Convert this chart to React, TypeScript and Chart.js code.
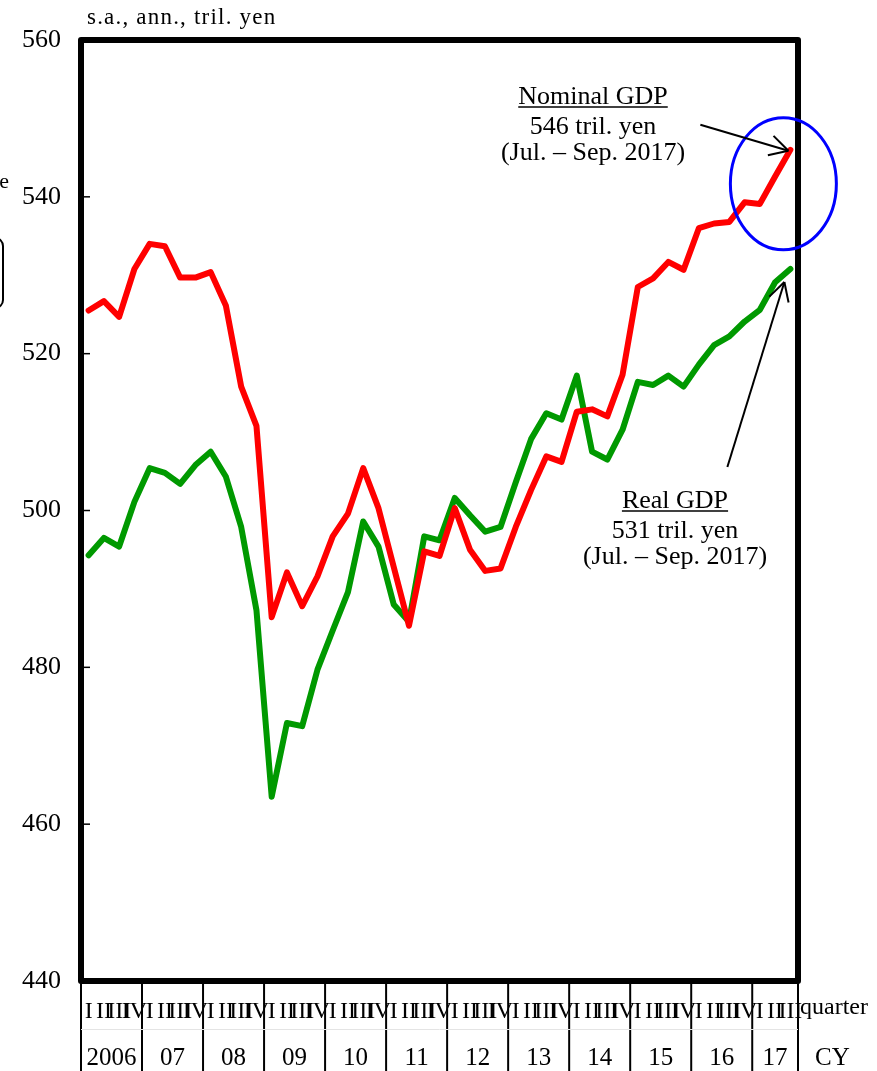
import { useEffect, useRef } from "react";
import { Chart, registerables } from "chart.js";

Chart.register(...registerables);

// Calendar years shown along the bottom row and quarter numerals above them
const years = ["2006", "07", "08", "09", "10", "11", "12", "13", "14", "15", "16", "17"];
const quarterNames = ["I", "II", "III", "IV"];

// Seasonally adjusted, annualized GDP, trillion yen (2006 Q1 – 2017 Q3)
const nominalGdp = [
  525.5, 526.7, 524.7, 530.8, 534.0, 533.7, 529.7, 529.7, 530.4, 526.1,
  515.8, 510.8, 486.4, 492.1, 487.8, 491.6, 496.7, 499.6, 505.4, 500.3,
  492.8, 485.3, 494.8, 494.2, 500.3, 495.0, 492.3, 492.6, 497.9, 502.6,
  506.9, 506.2, 512.6, 512.9, 512.0, 517.3, 528.5, 529.6, 531.7, 530.7,
  536.0, 536.6, 536.8, 539.3, 539.1, 542.6, 546.0,
];
const realGdp = [
  494.3, 496.5, 495.4, 501.1, 505.4, 504.8, 503.4, 505.8, 507.5, 504.3,
  497.9, 487.3, 463.5, 472.9, 472.5, 479.7, 484.7, 489.6, 498.6, 495.4,
  488.0, 485.8, 496.7, 496.2, 501.6, 499.4, 497.3, 497.9, 503.6, 509.1,
  512.4, 511.6, 517.2, 507.5, 506.5, 510.3, 516.4, 516.0, 517.2, 515.8,
  518.6, 521.1, 522.2, 524.1, 525.6, 529.1, 530.8,
];
const yTicks = [440, 460, 480, 500, 520, 540, 560];

const quarterLabels: string[] = [];
for (let i = 0; i < nominalGdp.length; i++) {
  quarterLabels.push(`${years[Math.floor(i / 4)]} ${quarterNames[i % 4]}`);
}

const SERIF = "'Liberation Serif', 'DejaVu Serif', 'Times New Roman', serif";
const W = 877;
const H = 1071;

function seg(ctx: CanvasRenderingContext2D, x1: number, y1: number, x2: number, y2: number) {
  ctx.beginPath();
  ctx.moveTo(x1, y1);
  ctx.lineTo(x2, y2);
  ctx.stroke();
}

function arrow(ctx: CanvasRenderingContext2D, fx: number, fy: number, tx: number, ty: number) {
  seg(ctx, fx, fy, tx, ty);
  const ang = Math.atan2(ty - fy, tx - fx);
  const len = 21;
  const spread = 0.5;
  seg(ctx, tx, ty, tx - len * Math.cos(ang - spread), ty - len * Math.sin(ang - spread));
  seg(ctx, tx, ty, tx - len * Math.cos(ang + spread), ty - len * Math.sin(ang + spread));
}

function noteBlock(ctx: CanvasRenderingContext2D, cx: number, top: number, lines: string[]) {
  ctx.font = `26px ${SERIF}`;
  ctx.fillStyle = "#000";
  ctx.textAlign = "center";
  ctx.textBaseline = "alphabetic";
  const gaps = [0, 30, 56];
  lines.forEach((t, k) => ctx.fillText(t, cx, top + gaps[k]));
  const w = ctx.measureText(lines[0]).width;
  ctx.lineWidth = 1.4;
  ctx.strokeStyle = "#000";
  seg(ctx, cx - w / 2, top + 3, cx + w / 2, top + 3);
}

const overlay = {
  id: "gdpOverlay",
  afterDraw(chart: any) {
    const { ctx, chartArea: a, scales } = chart;
    const xs = scales.x;
    const ys = scales.y;
    ctx.save();

    // inward tick marks on the value axis
    ctx.strokeStyle = "#000";
    ctx.lineWidth = 1.5;
    for (const v of yTicks) {
      const py = ys.getPixelForValue(v);
      seg(ctx, a.left, py, a.left + 9, py);
    }

    // heavy frame round the plot
    ctx.lineWidth = 6;
    ctx.lineJoin = "round";
    ctx.strokeRect(a.left, a.top, a.right - a.left, a.bottom - a.top);

    // unit caption
    ctx.fillStyle = "#000";
    ctx.font = `23px ${SERIF}`;
    ctx.textAlign = "left";
    ctx.textBaseline = "alphabetic";
    (ctx as any).letterSpacing = "1.2px";
    ctx.fillText("s.a., ann., tril. yen", a.left + 6, 24);
    (ctx as any).letterSpacing = "0px";

    // pieces of neighbouring content at the far left edge
    ctx.font = `22px ${SERIF}`;
    ctx.textAlign = "right";
    ctx.fillText("e", 9, 188);
    ctx.lineWidth = 2;
    ctx.beginPath();
    ctx.roundRect(-60, 238, 63, 70, 8);
    ctx.stroke();

    // quarter / calendar-year table under the plot
    const step = xs.getPixelForValue(1) - xs.getPixelForValue(0);
    const n = nominalGdp.length;
    ctx.lineWidth = 2;
    ctx.strokeStyle = "#000";
    const bounds: number[] = [];
    for (let k = 0; k < years.length; k++) bounds.push(xs.getPixelForValue(4 * k) - step / 2);
    bounds.push(a.right);
    for (const bx of bounds) seg(ctx, bx, a.bottom, bx, H);
    ctx.strokeStyle = "#e4e4e4";
    ctx.lineWidth = 1;
    seg(ctx, a.left, 1029.5, a.right, 1029.5);

    ctx.fillStyle = "#000";
    ctx.textAlign = "center";
    ctx.textBaseline = "middle";
    ctx.font = `24px ${SERIF}`;
    for (let i = 0; i < n; i++) {
      ctx.fillText(quarterNames[i % 4], xs.getPixelForValue(i), 1012);
    }
    ctx.font = `25px ${SERIF}`;
    for (let k = 0; k < years.length; k++) {
      ctx.fillText(years[k], (bounds[k] + bounds[k + 1]) / 2, 1058);
    }
    ctx.textAlign = "left";
    ctx.font = `24px ${SERIF}`;
    ctx.fillText("quarter", a.right + 2, 1008);
    ctx.font = `25px ${SERIF}`;
    ctx.fillText("CY", a.right + 17, 1058);

    // call-outs for the latest quarter
    const lastX = xs.getPixelForValue(n - 1);
    const nomY = ys.getPixelForValue(nominalGdp[n - 1]);
    const realY = ys.getPixelForValue(realGdp[n - 1]);

    ctx.strokeStyle = "#0000ff";
    ctx.lineWidth = 3;
    ctx.beginPath();
    ctx.ellipse(lastX - 7, nomY + 34, 53, 66, 0, 0, Math.PI * 2);
    ctx.stroke();

    noteBlock(ctx, a.right - 205, 104, [
      "Nominal GDP",
      `${Math.round(nominalGdp[n - 1])} tril. yen`,
      "(Jul. \u2013 Sep. 2017)",
    ]);
    noteBlock(ctx, a.right - 123, 508, [
      "Real GDP",
      `${Math.round(realGdp[n - 1])} tril. yen`,
      "(Jul. \u2013 Sep. 2017)",
    ]);

    ctx.strokeStyle = "#000";
    ctx.lineWidth = 2;
    arrow(ctx, lastX - 90, nomY - 25, lastX - 2, nomY + 1);
    arrow(ctx, lastX - 63, realY + 198, lastX - 6, realY + 13);

    ctx.restore();
  },
};

export default function App() {
  const ref = useRef<HTMLCanvasElement | null>(null);

  useEffect(() => {
    if (!ref.current) return;
    const chart = new Chart(ref.current, {
      type: "line",
      data: {
        labels: quarterLabels,
        datasets: [
          {
            label: "Real GDP",
            data: realGdp,
            borderColor: "#009900",
            borderWidth: 6,
            pointRadius: 0,
            tension: 0,
            borderJoinStyle: "round",
            borderCapStyle: "round",
            order: 2,
          },
          {
            label: "Nominal GDP",
            data: nominalGdp,
            borderColor: "#ff0000",
            borderWidth: 6,
            pointRadius: 0,
            tension: 0,
            borderJoinStyle: "round",
            borderCapStyle: "round",
            order: 1,
          },
        ],
      },
      options: {
        responsive: false,
        animation: false,
        devicePixelRatio: 1,
        layout: { padding: { top: 40, right: 79, left: 0, bottom: 0 } },
        plugins: {
          legend: { display: false },
          tooltip: { enabled: false },
        },
        scales: {
          x: {
            type: "category",
            offset: true,
            grid: { display: false },
            border: { display: false },
            ticks: { display: false },
            afterFit(s: any) {
              s.height = 90;
            },
          },
          y: {
            min: 440,
            max: 560,
            grid: { display: false, drawTicks: false },
            border: { display: false },
            ticks: {
              stepSize: 20,
              padding: 20,
              color: "#000",
              font: { family: SERIF, size: 26 },
            },
            afterFit(s: any) {
              s.width = 81;
            },
          },
        },
      },
      plugins: [overlay],
    });
    return () => chart.destroy();
  }, []);

  return (
    <div style={{ position: "absolute", left: 0, top: 0, width: W, height: H, background: "#fff" }}>
      <canvas ref={ref} width={W} height={H} style={{ display: "block" }} />
    </div>
  );
}
